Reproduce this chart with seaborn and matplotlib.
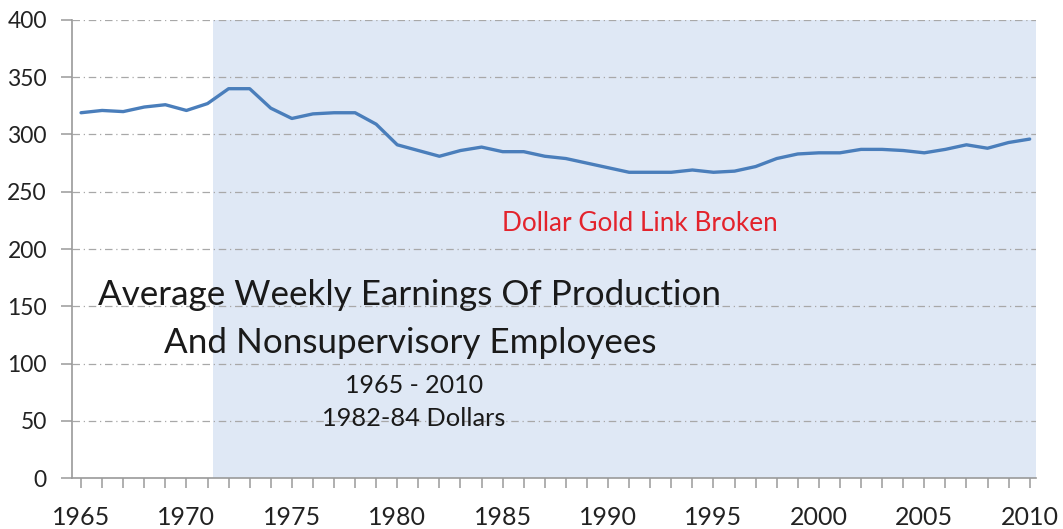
import matplotlib
matplotlib.use("Agg")
import matplotlib.pyplot as plt
import seaborn as sns
import pandas as pd
import numpy as np
from matplotlib.ticker import MultipleLocator

years = list(range(1965, 2011))
earnings = [319, 321, 320, 324, 326, 321, 327, 340, 340, 323,
            314, 318, 319, 319, 309, 291, 286, 281, 286, 289,
            285, 285, 281, 279, 275, 271, 267, 267, 267, 269,
            267, 268, 272, 279, 283, 284, 284, 287, 287, 286,
            284, 287, 291, 288, 293, 296]
y_ticks = [0, 50, 100, 150, 200, 250, 300, 350, 400]
x_ticks = [1965, 1970, 1975, 1980, 1985, 1990, 1995, 2000, 2005, 2010]
shade_start = 1971.25
shade_end = 2010.3

df = pd.DataFrame({"year": years, "earnings": earnings})

sns.set_theme(style="white")
plt.rcParams['font.family'] = ['Lato', 'DejaVu Sans']

fig = plt.figure(figsize=(10.63, 5.29), dpi=100)
ax = fig.add_axes([0.0677, 0.0964, 0.9069, 0.8658])

ax.axvspan(shade_start, shade_end, color="#dfe8f5", zorder=0, lw=0)

sns.lineplot(data=df, x="year", y="earnings", ax=ax, color="#4a7ebb",
             linewidth=2.4, zorder=3)

ax.set_xlim(1964.57, 2010.3)
ax.set_ylim(0, 400)
ax.set_yticks(y_ticks)
ax.set_xticks(x_ticks)
ax.xaxis.set_minor_locator(MultipleLocator(1))
ax.set_xlabel("")
ax.set_ylabel("")

for v in y_ticks[1:]:
    ax.axhline(v, color="#a8a8a8", lw=0.9, ls=(0, (6, 3, 1, 3)), zorder=1)

for side in ["top", "right"]:
    ax.spines[side].set_visible(False)
for side in ["left", "bottom"]:
    ax.spines[side].set_color("#9a9a9a")
    ax.spines[side].set_linewidth(1.2)

ax.tick_params(axis="y", which="major", direction="out", length=8, width=1.1,
               color="#9a9a9a", labelsize=16.5, labelcolor="#222222", pad=10, left=True)
ax.tick_params(axis="x", which="major", direction="out", length=7, width=1.1,
               color="#9a9a9a", labelsize=18, labelcolor="#222222", pad=13, bottom=True)
ax.tick_params(axis="x", which="minor", direction="out", length=7, width=1.1,
               color="#9a9a9a", bottom=True)

ax.text(1991.5, 222.7, "Dollar Gold Link Broken", color="#e3232c",
        fontsize=18.8, ha="center", va="center", zorder=4)
ax.text(1980.6, 160, "Average Weekly Earnings Of Production", color="#1a1a1a",
        fontsize=25.2, ha="center", va="center", zorder=4)
ax.text(1980.6, 118, "And Nonsupervisory Employees", color="#1a1a1a",
        fontsize=25.2, ha="center", va="center", zorder=4)
ax.text(1980.8, 81, "1965 - 2010", color="#1a1a1a",
        fontsize=18, ha="center", va="center", zorder=4)
ax.text(1980.8, 52, "1982-84 Dollars", color="#1a1a1a",
        fontsize=18.3, ha="center", va="center", zorder=4)

fig.savefig("out.png", dpi=100, facecolor="white")
